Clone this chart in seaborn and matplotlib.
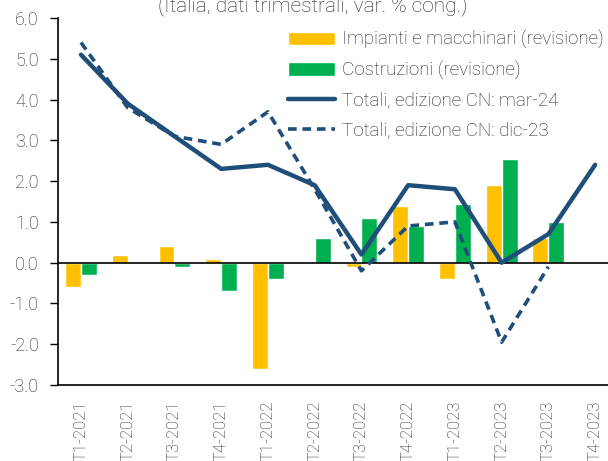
import numpy as np
import pandas as pd
import matplotlib
matplotlib.use("Agg")
import matplotlib.pyplot as plt
import seaborn as sns

categories = ["T1-2021", "T2-2021", "T3-2021", "T4-2021", "T1-2022", "T2-2022",
              "T3-2022", "T4-2022", "T1-2023", "T2-2023", "T3-2023", "T4-2023"]
impianti = [-0.6, 0.2, 0.4, 0.1, -2.6, np.nan, -0.1, 1.4, -0.4, 1.9, 0.6, np.nan]
costruzioni = [-0.3, -0.02, -0.1, -0.7, -0.4, 0.6, 1.1, 0.9, 1.45, 2.55, 1.0, np.nan]
totali_mar24 = [5.1, 3.9, 3.1, 2.3, 2.4, 1.9, 0.2, 1.9, 1.8, 0.0, 0.7, 2.4]
totali_dic23 = [5.4, 3.8, 3.1, 2.9, 3.7, 1.8, -0.2, 0.9, 1.0, -1.95, -0.1, np.nan]

lab_imp = "Impianti e macchinari (revisione)"
lab_cos = "Costruzioni (revisione)"
lab_mar = "Totali, edizione CN: mar-24"
lab_dic = "Totali, edizione CN: dic-23"
title = "(Italia, dati trimestrali, var. % cong.)"

sns.set_style("white")
plt.rcParams["font.family"] = ["Roboto", "DejaVu Sans"]
plt.rcParams["font.weight"] = "light"

ORANGE = "#FFC000"
GREEN = "#00B050"
NAVY = "#1F4E79"
TXT = "#222222"

bars = pd.DataFrame({
    "cat": categories * 2,
    "val": impianti + costruzioni,
    "serie": [lab_imp] * len(categories) + [lab_cos] * len(categories),
})

fig = plt.figure(figsize=(6.08, 4.61), dpi=100)
ax = fig.add_axes([57.6 / 608, 1 - 385 / 461, (618.5 - 57.6) / 608, (385 - 18) / 461])

sns.barplot(data=bars, x="cat", y="val", hue="serie", order=categories,
            palette=[ORANGE, GREEN], width=0.68, gap=0, saturation=1,
            ax=ax, legend=True)

idx = np.arange(len(categories))
sns.lineplot(x=idx, y=totali_mar24, color=NAVY, linewidth=3.2, ax=ax, label=lab_mar)
sns.lineplot(x=idx, y=totali_dic23, color=NAVY, linewidth=2.6, ax=ax, label=lab_dic,
             linestyle=(0, (2.4, 1.6)))

ax.axhline(0, color="black", linewidth=1.2, zorder=1.5)
ax.set_xlim(-0.5, len(categories) - 0.5)
ax.set_ylim(-3, 6)
yt = np.arange(-3, 6.01, 1)
ax.set_yticks(yt)
ax.set_yticklabels([f"{v:.1f}" for v in yt], fontsize=13)
ax.set_xticks(idx)
ax.set_xticklabels(categories, rotation=90, fontsize=12)
ax.set_xlabel("")
ax.set_ylabel("")
for s in ["top", "right"]:
    ax.spines[s].set_visible(False)
for s in ["left", "bottom"]:
    ax.spines[s].set_color("black")
    ax.spines[s].set_linewidth(1.2)
ax.tick_params(axis="y", left=True, length=6, width=1, color="black", pad=7.5, labelcolor=TXT)
ax.tick_params(axis="x", bottom=False, pad=8, labelcolor=TXT)

handles, labels = ax.get_legend_handles_labels()
order = [labels.index(l) for l in [lab_imp, lab_cos, lab_mar, lab_dic]]
ax.legend([handles[i] for i in order], [labels[i] for i in order],
          loc="upper left", bbox_to_anchor=(288 / 608, 1 - 30 / 461),
          bbox_transform=fig.transFigure, frameon=False, fontsize=13.5,
          handlelength=2.5, handletextpad=0.4, labelspacing=0.63,
          borderpad=0, borderaxespad=0, labelcolor=TXT)

fig.text(0.515, 1 - 11 / 461, title, ha="center", va="baseline", fontsize=15,
         color=TXT)

fig.savefig("out.png", dpi=100)
